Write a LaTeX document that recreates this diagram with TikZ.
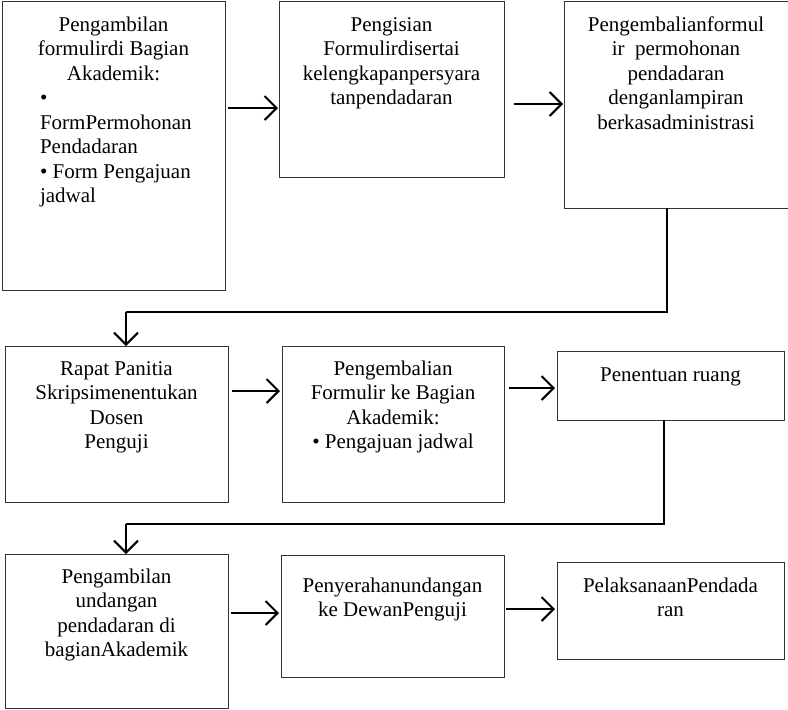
\documentclass[tikz,border=0pt]{standalone}
\usepackage{fontspec}
\setmainfont{Liberation Serif}
\usetikzlibrary{arrows.meta}
\begin{document}
\begin{tikzpicture}[x=1pt,y=-1pt,
  box/.style={draw=black!80, line width=1pt, anchor=north west, inner sep=0pt, outer sep=0pt},
  txt/.style={anchor=north, align=center, inner sep=0pt, yshift=17.15pt, font=\fontsize{21}{24.5}\selectfont},
  flow/.style={line width=2pt, -{Straight Barb[length=12pt,width=24pt,line width=2pt]}},
  link/.style={line width=2pt}]
\useasboundingbox (0,0) rectangle (788,710);
% row 1
\node[box, minimum width=223pt, minimum height=289pt] (b1) at (2,1) {};
\node[box, minimum width=225pt, minimum height=176pt] (b2) at (279,1) {};
\node[box, minimum width=226pt, minimum height=207pt] (b3) at (564,1) {};
\node[txt] (t1) at (113.5,31) {\strut Pengambilan\\formulirdi Bagian\\Akademik:\\
  \makebox[147pt][l]{•}\\\makebox[147pt][l]{FormPermohonan}\\\makebox[147pt][l]{Pendadaran}\\
  \makebox[147pt][l]{• Form Pengajuan}\\\makebox[147pt][l]{jadwal}};
\node[txt] (t2) at (391.5,31) {\strut Pengisian\\Formulirdisertai\\kelengkapanpersyara\\tanpendadaran};
\node[txt] (t3) at (676,31) {\strut Pengembalianformul\\ir\ \ permohonan\\pendadaran\\denganlampiran\\berkasadministrasi};
% row 2
\node[box, minimum width=223pt, minimum height=156pt] (b4) at (5,346) {};
\node[box, minimum width=222pt, minimum height=156pt] (b5) at (282,346) {};
\node[box, minimum width=227pt, minimum height=69pt] (b6) at (557,351) {};
\node[txt] (t4) at (116.5,375) {\strut Rapat Panitia\\Skripsimenentukan\\Dosen\\Penguji};
\node[txt] (t5) at (393,375) {\strut Pengembalian\\Formulir ke Bagian\\Akademik:\\• Pengajuan jadwal};
\node[txt] (t6) at (670.5,381) {\strut Penentuan ruang};
% row 3
\node[box, minimum width=223pt, minimum height=154pt] (b7) at (5,554) {};
\node[box, minimum width=223pt, minimum height=122pt] (b8) at (281,555) {};
\node[box, minimum width=227pt, minimum height=97pt] (b9) at (557,562) {};
\node[txt] (t7) at (116.5,583) {\strut Pengambilan\\undangan\\pendadaran di\\bagianAkademik};
\node[txt] (t8) at (392.5,592) {\strut Penyerahanundangan\\ke DewanPenguji};
\node[txt] (t9) at (670.5,592) {\strut PelaksanaanPendada\\ran};
% connectors
\draw[flow] ([xshift=3pt]b1.east |- 0,108) -- ([xshift=-1pt]b2.west |- 0,108);
\draw[flow] ([xshift=10pt]b2.east |- 0,104) -- ([xshift=-1pt]b3.west |- 0,104);
\coordinate (c1) at (667,312);
\coordinate (c2) at (126,312);
\draw[link] (b3.south -| c1) -- (c1) -- (c2);
\draw[flow] (c2) -- (b4.north -| c2);
\draw[flow] ([xshift=4pt]b4.east |- 0,391) -- ([xshift=-2pt]b5.west |- 0,391);
\draw[flow] ([xshift=5pt]b5.east |- 0,388) -- ([xshift=-2pt]b6.west |- 0,388);
\coordinate (c3) at (664,524);
\coordinate (c4) at (126,524);
\draw[link] (b6.south -| c3) -- (c3) -- (c4);
\draw[flow] (c4) -- (b7.north -| c4);
\draw[flow] ([xshift=3pt]b7.east |- 0,613) -- ([xshift=-2pt]b8.west |- 0,613);
\draw[flow] ([xshift=2pt]b8.east |- 0,609) -- ([xshift=-2pt]b9.west |- 0,609);
\end{tikzpicture}
\end{document}
